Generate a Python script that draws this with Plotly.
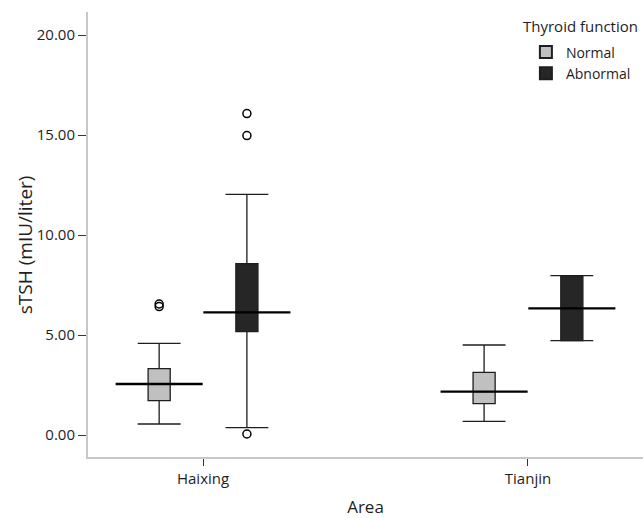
import plotly.graph_objects as go

# ---- data ----
areas = ["Haixing", "Tianjin"]
groups = ["Normal", "Abnormal"]

normal_lower = [0.55, 0.68]
normal_q1 = [1.72, 1.57]
normal_median = [2.55, 2.17]
normal_q3 = [3.32, 3.13]
normal_upper = [4.58, 4.50]

abnormal_lower = [0.37, 4.72]
abnormal_q1 = [5.17, 4.72]
abnormal_median = [6.13, 6.33]
abnormal_q3 = [8.57, 7.97]
abnormal_upper = [12.03, 7.97]

normal_outlier_area = ["Haixing", "Haixing"]
normal_outliers = [6.42, 6.55]
abnormal_outlier_area = ["Haixing", "Haixing", "Haixing"]
abnormal_outliers = [16.07, 14.97, 0.05]

y_ticks = [0, 5, 10, 15, 20]

# ---- styling ----
FONT = "Open Sans"
fill_colors = {"Normal": "#c0c0c0", "Abnormal": "#262626"}
offsets = {"Normal": -0.135, "Abnormal": 0.135}
BOX_W = 0.068
CAP_HALF = 0.066
MED_HALF = 0.134
LINE_C = "#1e1e1e"

stats = {
    "Normal": (normal_lower, normal_q1, normal_median, normal_q3, normal_upper,
               normal_outlier_area, normal_outliers),
    "Abnormal": (abnormal_lower, abnormal_q1, abnormal_median, abnormal_q3, abnormal_upper,
                 abnormal_outlier_area, abnormal_outliers),
}

fig = go.Figure()

for g in groups:
    lo, q1, med, q3, up, oa, ov = stats[g]
    xs = [i + offsets[g] for i in range(len(areas))]
    fig.add_trace(go.Box(
        x=xs, q1=q1, median=med, q3=q3, lowerfence=lo, upperfence=up,
        width=BOX_W, whiskerwidth=0, name=g, fillcolor=fill_colors[g],
        line=dict(color=LINE_C, width=1.3), boxpoints=False, showlegend=True,
    ))
    # whisker caps
    cx, cy = [], []
    for x, a, b in zip(xs, lo, up):
        cx += [x - CAP_HALF, x + CAP_HALF, None, x - CAP_HALF, x + CAP_HALF, None]
        cy += [a, a, None, b, b, None]
    fig.add_trace(go.Scatter(x=cx, y=cy, mode="lines", line=dict(color=LINE_C, width=1.3),
                             showlegend=False, hoverinfo="skip"))
    # wide median lines
    mx, my = [], []
    for x, m in zip(xs, med):
        mx += [x - MED_HALF, x + MED_HALF, None]
        my += [m, m, None]
    fig.add_trace(go.Scatter(x=mx, y=my, mode="lines", line=dict(color="#000000", width=2.4),
                             showlegend=False, hoverinfo="skip"))
    # outliers
    ox = [areas.index(a) + offsets[g] for a in oa]
    fig.add_trace(go.Scatter(x=ox, y=ov, mode="markers",
                             marker=dict(symbol="circle-open", size=8, color="#000000",
                                         line=dict(width=1.5)),
                             showlegend=False, hoverinfo="skip"))

fig.update_layout(
    width=643, height=518,
    margin=dict(l=88, r=0, t=12, b=61),
    paper_bgcolor="white", plot_bgcolor="white",
    font=dict(family=FONT, size=14, color="#1e1e1e"),
    legend=dict(x=0.789, y=0.945, xanchor="left", yanchor="top",
                font=dict(size=14, color="#1e1e1e"), bgcolor="rgba(0,0,0,0)",
                tracegroupgap=0, itemsizing="constant"),
    annotations=[
        dict(text="Thyroid function", xref="paper", yref="paper",
             x=0.78, y=0.968, xanchor="left", yanchor="middle",
             showarrow=False, font=dict(size=15, color="#1e1e1e")),
        dict(text="sTSH (mIU/liter)", xref="paper", yref="paper",
             x=-0.1135, y=0.476, xanchor="center", yanchor="middle", textangle=-90,
             showarrow=False, font=dict(size=19, color="#1e1e1e")),
    ],
)

fig.update_xaxes(
    range=[-0.354, 1.354], tickvals=list(range(len(areas))), ticktext=areas,
    showgrid=False, zeroline=False, showline=True, linecolor="#c8c8c8", linewidth=2,
    ticks="outside", ticklen=7, tickcolor="#333333", tickfont=dict(size=15),
    title=dict(text="Area", font=dict(size=17), standoff=18),
)
fig.update_yaxes(
    range=[-1.1, 21.15], tickvals=y_ticks, tickformat=".2f",
    showgrid=False, zeroline=False, showline=True, linecolor="#c8c8c8", linewidth=2,
    ticks="outside", ticklen=8, tickcolor="#333333", tickfont=dict(size=15),
)

fig.write_html("out.html", config={"displayModeBar": False},
               post_script="document.body.style.margin='0px';")
